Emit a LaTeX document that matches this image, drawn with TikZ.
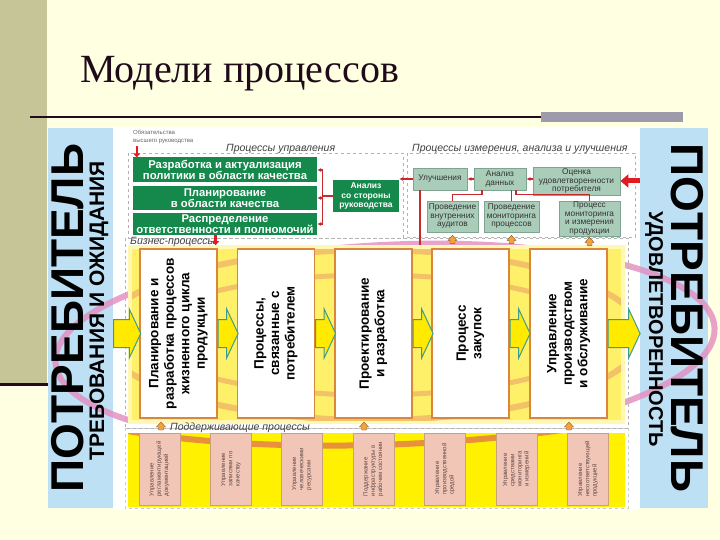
\documentclass[tikz,border=0pt]{standalone}
\usepackage{fontspec}
\setmainfont{Liberation Serif}
\setsansfont{Liberation Sans}
\usetikzlibrary{arrows.meta,calc,shapes.arrows}
\definecolor{cream}{HTML}{FFFFE1}
\definecolor{olivebar}{HTML}{C6C598}
\definecolor{darkline}{HTML}{230A1E}
\definecolor{greybar}{HTML}{9D9AAA}
\definecolor{titlec}{HTML}{1E0A1A}
\definecolor{pblue}{HTML}{BDE0F5}
\definecolor{qgreen}{HTML}{15894C}
\definecolor{mgreen}{HTML}{A9CDB8}
\definecolor{mgreenb}{HTML}{7FA592}
\definecolor{mtext}{HTML}{333333}
\definecolor{rline}{HTML}{C42A2E}
\definecolor{rarrow}{HTML}{E01B22}
\definecolor{bborder}{HTML}{D9873A}
\definecolor{bizpale}{HTML}{FFF8B5}
\definecolor{bizyel}{HTML}{FFF06A}
\definecolor{arcor}{HTML}{F3C167}
\definecolor{orband}{HTML}{E8913A}
\definecolor{ayellow}{HTML}{FFEA00}
\definecolor{ateal}{HTML}{3C9C94}
\definecolor{supyel}{HTML}{FFF100}
\definecolor{spink}{HTML}{F2C6B6}
\definecolor{sborder}{HTML}{C9A27A}
\definecolor{stext}{HTML}{5B4848}
\definecolor{pinkc}{HTML}{E48BBE}
\definecolor{aorange}{HTML}{F6A23A}
\definecolor{gtext}{HTML}{404040}

\begin{document}
\begin{tikzpicture}[x=1pt,y=-1pt,>={Latex[length=4,width=4]},
  gbox/.style={fill=qgreen,text=white,font=\sffamily\bfseries\fontsize{11.3}{11.3}\selectfont,align=center,inner sep=0pt,minimum width=184},
  mbox/.style={fill=mgreen,draw=mgreenb,line width=0.8,text=mtext,font=\sffamily\fontsize{8.3}{8.5}\selectfont,align=center,inner sep=0pt},
  bbox/.style={fill=white,draw=bborder,line width=1.2,rotate=90,minimum width=169,minimum height=77,align=center,inner sep=0pt,font=\sffamily\bfseries\fontsize{13.5}{15.5}\selectfont},
  sbox/.style={fill=spink,draw=sborder,line width=0.6,rotate=90,minimum width=72,minimum height=41,align=left,inner sep=0pt,font=\sffamily\fontsize{6}{7.2}\selectfont,text=stext},
  yarr/.style={single arrow,fill=ayellow,draw=ateal,line width=1,inner xsep=0pt,inner ysep=13.5,single arrow head extend=10.5,single arrow tip angle=130,minimum height=20},
  panel/.style={fill=pblue,minimum height=380,inner sep=0pt},
  redc/.style={draw=rline,line width=1.2},
  redarr/.style={draw=rarrow,line width=2.5,-{Triangle[length=4,width=7]}},
  bigred/.style={draw=rarrow,line width=5,-{Triangle[length=8,width=13]}},
  grp/.style={font=\sffamily\itshape\fontsize{10.5}{12}\selectfont,text=gtext,inner sep=0pt},
  dframe/.style={draw=gray!60,dashed,line width=0.6},
  uparr/.pic={\filldraw[fill=aorange,draw=brown!70!black,line width=0.4] (-2.5,3) -- (-2.5,0) -- (-4.5,0) -- (0,-5) -- (4.5,0) -- (2.5,0) -- (2.5,3) -- cycle;}
]
\useasboundingbox (0,0) rectangle (720,540);
%---------------- slide background
\fill[cream] (0,0) rectangle (720,540);
\fill[olivebar] (0,0) rectangle (47,385);
\draw[darkline,line width=3] (0,384) -- (48,384);
\draw[darkline,line width=2.5] (30,117) -- (541,117);
\fill[greybar] (541,112) rectangle (683,122);
\node[anchor=base west,inner sep=0pt,text=titlec,font=\fontsize{40}{48}\selectfont] (title) at (80,83) {Модели процессов};

%---------------- scheme background, customer panels
\fill[white] (113,127) rectangle (640,510);
\node[panel,minimum width=65] (lpanel) at (80.5,318) {};
\node[panel,minimum width=68] (rpanel) at (674,318) {};
% pink loop
\draw[pinkc,line width=6,opacity=.8,rotate around={3:(385,345)}] (385,345) ellipse [x radius=330,y radius=100];

%---------------- business area
\fill[bizpale] (128,245) rectangle (625,424);
\begin{scope}
\clip (132,249) rectangle (621,420);
\fill[bizyel] (132,249) rectangle (621,420);
\draw[arcor,line width=6] (372,335) ellipse [x radius=270,y radius=85];
\draw[arcor,line width=5] (372,335) ellipse [x radius=228,y radius=60];
\end{scope}
% support area
\fill[white] (128,424) rectangle (625,433);
\begin{scope}
\clip (128,433) rectangle (625,507);
\fill[supyel] (128,433) rectangle (625,507);
\draw[orband,line width=6] (128,431) .. controls (250,452) and (450,452) .. (625,420);
\end{scope}

% dashed groups
\draw[dframe] (128,153) rectangle (403,238);
\draw[dframe] (407,153) rectangle (635,237);
\draw[dframe] (125,238) rectangle (628,428);
\draw[dframe,draw=gray!40] (125,428) rectangle (628,508);
\coordinate (biztop) at (0,245);

% group labels
\node[grp,anchor=west] (mgmtl) at (226,149) {Процессы управления};
\node[grp,anchor=west] (measl) at (412,149) {Процессы измерения, анализа и улучшения};
\node[grp,anchor=west] (bizl) at (130,242) {Бизнес-процессы};
\node[grp,anchor=west] (supl) at (170,428) {Поддерживающие процессы};
\node[anchor=north west,inner sep=0pt,align=left,text=gray!80!black,font=\sffamily\fontsize{6}{7.5}\selectfont] (obyaz) at (133,130) {Обязательства\\высшего руководства};

%---------------- management processes
\node[gbox,minimum height=25] (razr) at (225,170) {Разработка и актуализация\\политики в области качества};
\node[gbox,minimum height=24] (plank) at (225,198) {Планирование\\в области качества};
\node[gbox,minimum height=22] (raspr) at (225,224) {Распределение\\ответственности и полномочий};
\node[gbox,minimum width=66,minimum height=32,font=\sffamily\bfseries\fontsize{8.5}{9.5}\selectfont] (anal) at (366,196) {Анализ\\со стороны\\руководства};

\draw[redc,->] (anal.west) -- ++(-10,0) |- (razr.east);
\draw[redc,->] (anal.west) -- ++(-10,0) |- (plank.east);
\draw[redc,->] (anal.west) -- ++(-10,0) |- (raspr.east);
\draw[redarr] ([xshift=4,yshift=11]razr.north west) -- ([xshift=4]razr.north west);
\draw[redarr] (bizl.east |- raspr.south) -- ++(0,10);

%---------------- measurement, analysis, improvement
\node[mbox,minimum width=54,minimum height=22] (ulu) at (440,179) {Улучшения};
\node[mbox,minimum width=52,minimum height=22] (anal2) at (500,179) {Анализ\\данных};
\node[mbox,minimum width=87,minimum height=28] (ocen) at (576.5,181) {Оценка\\удовлетворенности\\потребителя};
\node[mbox,minimum width=51,minimum height=31] (aud) at (452.5,216.5) {Проведение\\внутренних\\аудитов};
\node[mbox,minimum width=55,minimum height=31] (monp) at (511.5,216.5) {Проведение\\мониторинга\\процессов};
\node[mbox,minimum width=61,minimum height=35] (monpr) at (589.5,218.5) {Процесс\\мониторинга\\и измерения\\продукции};

\draw[redc,->] (ulu.west) -- (anal.east |- ulu.west);
\draw[redc,->] (anal2.west) -- (ulu.east);
\draw[redc,->] (ocen.west |- anal2.east) -- (anal2.east);
\draw[redc] (aud.north) -- ++(0,-6) -| ([xshift=-18]anal2.south);
\draw[redc] (monp.north) -- (monp.north |- anal2.south);
\draw[redc] (monpr.north) -- ++(0,-6) -| ([xshift=16]anal2.south);
\coordinate (uluout) at ([xshift=-20]ulu.south);
\draw[redc] (uluout) -- (uluout |- biztop);
\draw[bigred] (rpanel.west |- ocen.east) -- (ocen.east);
\pic at ($(aud.south)+(0,8)$) {uparr};
\pic at ($(monp.south)+(0,8)$) {uparr};
\pic at ($(monpr.south)+(0,6)$) {uparr};

%---------------- business processes
\node[bbox] (plan) at (178.5,333.5) {Планирование и\\разработка процессов\\жизненного цикла\\продукции};
\node[bbox] (potr) at (276,333.5) {Процессы,\\связанные с\\потребителем};
\node[bbox] (proekt) at (373.5,333.5) {Проектирование\\и разработка};
\node[bbox] (zakup) at (470.5,333.5) {Процесс\\закупок};
\node[bbox] (uprav) at (568.5,333.5) {Управление\\производством\\и обслуживание};

\node[yarr,minimum height=27,anchor=tail] (ain) at (lpanel.east |- plan.center) {};
\node[yarr,anchor=tail] (a1) at (plan.south) {};
\node[yarr,anchor=tail] (a2) at (potr.south) {};
\node[yarr,anchor=tail] (a3) at (proekt.south) {};
\node[yarr,anchor=tail] (a4) at (zakup.south) {};
\node[yarr,minimum height=32,anchor=tail] (aout) at (uprav.south) {};

%---------------- support processes
\node[sbox] (s1) at (159.5,469) {Управление\\регламентирующей\\документацией};
\node[sbox] (s2) at (231,469) {Управление\\записями по\\качеству};
\node[sbox] (s3) at (302,469) {Управление\\человеческими\\ресурсами};
\node[sbox] (s4) at (373.5,469) {Поддержание\\инфраструктуры в\\рабочем состоянии};
\node[sbox] (s5) at (445,469) {Управление\\производственной\\средой};
\node[sbox] (s6) at (516.5,469) {Управление\\средствами\\мониторинга\\и измерений};
\node[sbox] (s7) at (588,469) {Управление\\несоответствующей\\продукцией};
\pic at (161,427) {uparr};
\pic at (364,427) {uparr};
\pic at (569,427) {uparr};

%---------------- customer texts
\node[rotate=90,inner sep=0pt,font=\sffamily\bfseries\fontsize{46}{46}\selectfont] (lbig) at (68,318) {ПОТРЕБИТЕЛЬ};
\node[rotate=90,inner sep=0pt,font=\sffamily\bfseries\fontsize{21}{21}\selectfont] (lsub) at (99,311) {ТРЕБОВАНИЯ И ОЖИДАНИЯ};
\node[rotate=-90,inner sep=0pt,font=\sffamily\bfseries\fontsize{46}{46}\selectfont] (rbig) at (687,318) {ПОТРЕБИТЕЛЬ};
\node[rotate=-90,inner sep=0pt,font=\sffamily\bfseries\fontsize{20}{20}\selectfont] (rsub) at (654,329) {УДОВЛЕТВОРЕННОСТЬ};
\end{tikzpicture}
\end{document}
